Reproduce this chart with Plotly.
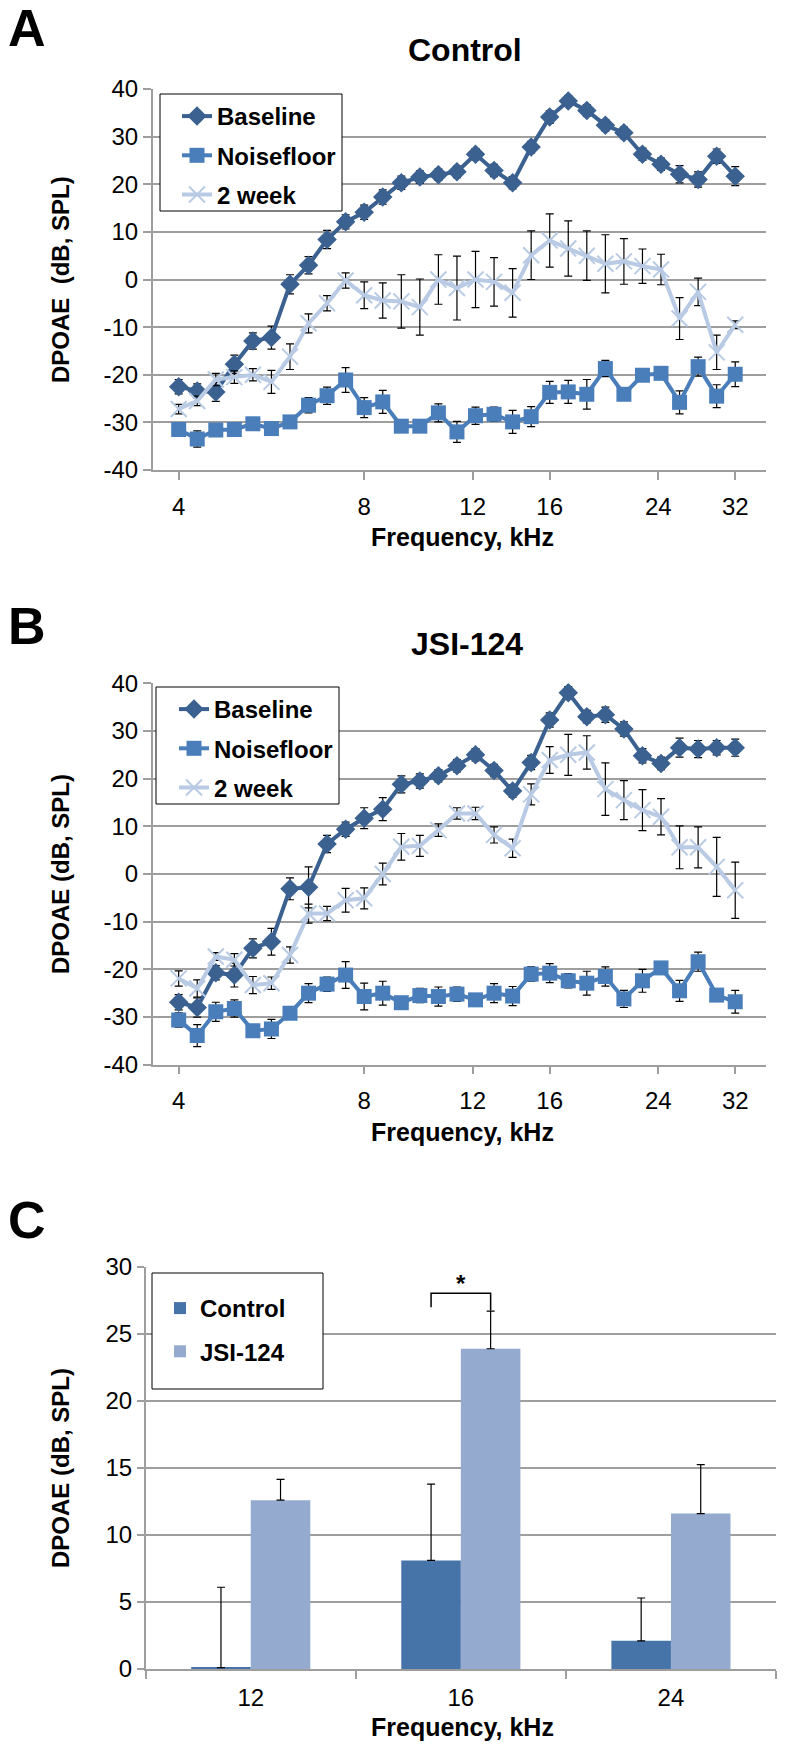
import math
import plotly.graph_objects as go

W, H = 787, 1747
FONT = "Liberation Sans, Arial, sans-serif"

# ---------------- data ----------------
freq_khz = [4.000, 4.287, 4.595, 4.925, 5.278, 5.657, 6.063, 6.498, 6.964, 7.464,
            8.000, 8.574, 9.190, 9.849, 10.556, 11.314, 12.126, 12.996, 13.929, 14.929,
            16.000, 17.148, 18.379, 19.698, 21.112, 22.627, 24.251, 25.992, 27.858, 29.857, 32.000]
freq_ticks = [4, 8, 12, 16, 24, 32]
db_ticks = [-40, -30, -20, -10, 0, 10, 20, 30, 40]

# Panel A (Control)
ctl_base = [-22.5, -23.4, -23.6, -17.8, -12.9, -12.2, -1.0, 3.0, 8.4, 12.1,
            14.1, 17.3, 20.3, 21.5, 22.0, 22.6, 26.3, 22.9, 20.3, 27.8,
            34.1, 37.5, 35.5, 32.4, 30.8, 26.3, 24.2, 22.1, 21.0, 25.9, 21.7]
ctl_base_err = [1.5, 1.5, 2.0, 1.9, 1.7, 2.4, 2.0, 1.8, 1.9, 1.5,
                1.5, 1.5, 1.4, 1.3, 1.2, 1.2, 1.2, 1.3, 1.3, 1.2,
                1.3, 1.1, 1.2, 1.2, 1.2, 1.3, 1.3, 1.8, 1.6, 1.5, 2.0]
ctl_noise = [-31.5, -33.5, -31.6, -31.5, -30.3, -31.3, -29.9, -26.4, -24.4, -21.1,
             -26.9, -25.7, -30.8, -30.8, -28.0, -32.0, -28.6, -28.3, -29.9, -28.8,
             -23.7, -23.6, -24.1, -18.7, -24.1, -20.1, -19.7, -25.8, -18.3, -24.5, -19.9]
ctl_noise_err = [1.0, 1.7, 1.0, 1.0, 1.0, 1.0, 1.0, 1.6, 1.8, 2.6,
                 2.1, 2.4, 1.0, 1.0, 1.9, 2.2, 1.8, 1.5, 2.4, 2.1,
                 2.3, 2.4, 3.1, 1.7, 1.0, 1.2, 1.2, 2.4, 2.0, 2.4, 2.6]
ctl_2wk = [-27.2, -25.5, -21.0, -20.5, -20.0, -21.5, -16.2, -9.2, -5.0, -0.2,
           -3.3, -4.4, -4.6, -5.8, 0.0, -1.8, 0.0, -0.5, -2.8, 5.1,
           8.2, 6.5, 5.0, 3.3, 3.8, 2.8, 2.1, -8.2, -2.6, -15.3, -9.5]
ctl_2wk_err = [1.0, 1.0, 1.3, 1.3, 1.3, 2.4, 2.7, 2.0, 1.6, 1.6,
               2.8, 3.7, 5.6, 5.9, 5.2, 6.7, 5.9, 5.1, 5.1, 5.1,
               5.6, 5.8, 5.2, 6.1, 4.8, 3.6, 3.2, 4.4, 2.9, 3.6, 0.8]

# Panel B (JSI-124)
jsi_base = [-26.9, -28.0, -20.7, -21.2, -15.6, -14.2, -3.1, -2.8, 6.3, 9.4,
            11.7, 13.6, 18.8, 19.5, 20.6, 22.7, 25.0, 21.7, 17.4, 23.4,
            32.3, 38.0, 33.0, 33.4, 30.4, 24.8, 23.2, 26.5, 26.2, 26.5, 26.5]
jsi_base_err = [1.6, 2.0, 1.5, 2.5, 2.0, 2.8, 2.3, 4.3, 1.8, 1.5,
                2.2, 2.4, 1.8, 1.5, 1.3, 1.3, 1.3, 1.3, 1.3, 1.5,
                1.5, 1.3, 1.3, 1.6, 1.5, 1.5, 1.3, 2.0, 1.8, 1.5, 1.8]
jsi_noise = [-30.6, -33.9, -28.9, -28.2, -32.9, -32.5, -29.2, -25.0, -23.1, -21.2,
             -25.7, -25.0, -27.0, -25.5, -25.7, -25.2, -26.4, -25.0, -25.6, -21.0,
             -20.8, -22.4, -22.9, -21.5, -26.2, -22.4, -19.7, -24.5, -18.4, -25.4, -26.8]
jsi_noise_err = [1.5, 2.3, 2.0, 1.8, 1.0, 2.0, 1.2, 2.0, 1.5, 2.8,
                 2.8, 2.5, 1.0, 1.5, 2.0, 1.5, 1.0, 2.0, 2.0, 1.5,
                 2.0, 1.5, 2.5, 2.0, 1.8, 2.4, 1.0, 2.2, 2.0, 1.2, 2.4]
jsi_2wk = [-21.9, -24.0, -17.3, -18.0, -23.3, -22.9, -17.0, -8.3, -8.3, -5.5,
           -5.1, 0.0, 5.7, 5.9, 9.2, 12.7, 12.7, 8.2, 5.4, 16.7,
           23.9, 25.0, 25.5, 17.8, 15.5, 13.4, 12.0, 5.6, 5.6, 1.5, -3.4]
jsi_2wk_err = [1.6, 1.8, 0.8, 1.3, 1.8, 1.3, 1.7, 2.0, 1.5, 2.5,
               2.2, 2.3, 2.8, 2.2, 1.3, 1.2, 1.3, 1.7, 1.9, 2.2,
               2.8, 4.3, 3.5, 5.5, 4.1, 4.3, 3.8, 4.5, 4.3, 6.2, 5.9]

# Panel C (bar chart, 2-week DPOAE)
bar_freqs = ["12", "16", "24"]
bar_control = [0.1, 8.1, 2.1]
bar_control_err = [6.0, 5.7, 3.2]
bar_jsi = [12.6, 23.9, 11.6]
bar_jsi_err = [1.55, 2.8, 3.65]
bar_ticks = [0, 5, 10, 15, 20, 25, 30]
sig_category = "16"

# ---------------- style ----------------
C_BASE = "#3A6190"
C_NOISE = "#4A7EBB"
C_2WK = "#B9CBE4"
C_BAR_CTL = "#4673A8"
C_BAR_JSI = "#95AACF"
GRID = "#9E9E9E"
BARGAP = 0.433


def px(x):
    return x / W


def py(y):
    return 1 - y / H


fig = go.Figure()


def add_line_panel(xa, ya, leg, base, base_err, noise, noise_err, wk, wk_err):
    eb = dict(type="data", color="black", thickness=1.2, width=4)
    fig.add_trace(go.Scatter(
        x=freq_khz, y=base, name="Baseline", mode="lines+markers",
        line=dict(color=C_BASE, width=4),
        marker=dict(symbol="diamond", size=15, color=C_BASE),
        error_y=dict(array=base_err, **eb),
        xaxis=xa, yaxis=ya, legend=leg, legendgroup=leg + "a"))
    fig.add_trace(go.Scatter(
        x=freq_khz, y=noise, name="Noisefloor", mode="lines+markers",
        line=dict(color=C_NOISE, width=4),
        marker=dict(symbol="square", size=15, color=C_NOISE),
        error_y=dict(array=noise_err, **eb),
        xaxis=xa, yaxis=ya, legend=leg, legendgroup=leg + "b"))
    fig.add_trace(go.Scatter(
        x=freq_khz, y=wk, name="2 week", mode="lines+markers",
        line=dict(color=C_2WK, width=4),
        marker=dict(symbol="x-thin-open", size=16, color=C_2WK,
                    line=dict(color=C_2WK, width=2)),
        error_y=dict(array=wk_err, **eb),
        xaxis=xa, yaxis=ya, legend=leg, legendgroup=leg + "c"))


add_line_panel("x", "y", "legend", ctl_base, ctl_base_err, ctl_noise, ctl_noise_err, ctl_2wk, ctl_2wk_err)
add_line_panel("x2", "y2", "legend2", jsi_base, jsi_base_err, jsi_noise, jsi_noise_err, jsi_2wk, jsi_2wk_err)

fig.add_trace(go.Bar(
    x=bar_freqs, y=bar_control, name="Control", marker=dict(color=C_BAR_CTL, line=dict(width=0)),
    error_y=dict(type="data", symmetric=False, array=bar_control_err,
                 arrayminus=[0] * len(bar_control), color="black", thickness=1.2, width=4),
    xaxis="x3", yaxis="y3", legend="legend3", legendgroup="c1"))
fig.add_trace(go.Bar(
    x=bar_freqs, y=bar_jsi, name="JSI-124", marker=dict(color=C_BAR_JSI, line=dict(width=0)),
    error_y=dict(type="data", symmetric=False, array=bar_jsi_err,
                 arrayminus=[0] * len(bar_jsi), color="black", thickness=1.2, width=4),
    xaxis="x3", yaxis="y3", legend="legend3", legendgroup="c2"))

tickfont = dict(family=FONT, size=24, color="black")
xrange_log = [math.log10(3.63), math.log10(35.9)]

line_x = dict(type="log", range=xrange_log, tickvals=freq_ticks,
              ticktext=[str(t) for t in freq_ticks], ticks="outside", ticklen=8,
              tickwidth=1.5, tickcolor=GRID, showline=True, linecolor=GRID, linewidth=1.5,
              showgrid=False, zeroline=False, tickfont=tickfont, ticklabelstandoff=6,
              automargin=False)
line_y = dict(range=[-40, 40], tickvals=db_ticks, ticktext=[str(t) for t in db_ticks],
              ticks="outside", ticklen=8, tickwidth=1.5,
              tickcolor=GRID, showline=True, linecolor=GRID, linewidth=1.5,
              showgrid=True, gridcolor=GRID, gridwidth=1.5, zeroline=False, tickfont=tickfont,
              automargin=False)

A_top, A_bot = 89, 470
B_top, B_bot = 683.3, 1064.7
C_top, C_bot = 1267, 1669
X_l, X_r = 152.7, 766

fig.update_layout(
    width=W, height=H, margin=dict(l=0, r=0, t=0, b=0, autoexpand=False),
    paper_bgcolor="white", plot_bgcolor="white",
    font=dict(family=FONT, color="black"),
    barmode="group", bargap=BARGAP, bargroupgap=0,
    xaxis=dict(domain=[px(X_l), px(X_r)], anchor="y", **line_x),
    yaxis=dict(domain=[py(A_bot), py(A_top)], anchor="x", **line_y),
    xaxis2=dict(domain=[px(X_l), px(X_r)], anchor="y2", **line_x),
    yaxis2=dict(domain=[py(B_bot), py(B_top)], anchor="x2", **line_y),
    xaxis3=dict(domain=[px(145.7), px(776)], anchor="y3", type="category",
                categoryorder="array", categoryarray=bar_freqs,
                ticks="outside", tickson="boundaries", ticklen=8, tickwidth=1.5,
                tickcolor=GRID, showline=True, linecolor=GRID, linewidth=1.5,
                showgrid=False, tickfont=tickfont, ticklabelstandoff=6, automargin=False),
    yaxis3=dict(domain=[py(C_bot), py(C_top)], anchor="x3", range=[0, 30],
                tickvals=bar_ticks, ticktext=[str(t) for t in bar_ticks],
                ticks="outside", ticklen=7, tickwidth=1.5, tickcolor=GRID,
                showline=True, linecolor=GRID, linewidth=1.5, showgrid=True,
                gridcolor=GRID, gridwidth=1.5, zeroline=False, tickfont=tickfont,
                automargin=False),
    showlegend=True,
)

leg_common = dict(xanchor="left", yanchor="top", bgcolor="rgba(0,0,0,0)", borderwidth=0,
                  font=dict(family=FONT, size=24, color="black", weight="bold"),
                  traceorder="grouped")
fig.update_layout(
    legend=dict(x=px(177), y=py(94), tracegroupgap=5, **leg_common),
    legend2=dict(x=px(174), y=py(687), tracegroupgap=5, **leg_common),
    legend3=dict(x=px(160), y=py(1286), tracegroupgap=9, **leg_common),
)

# legend frames (white fill hides the gridlines, thin black border)
for (x0, y0, x1, y1) in [(160, 94, 342, 211), (156, 687, 339, 804), (152, 1273, 323, 1389)]:
    fig.add_shape(type="rect", xref="paper", yref="paper",
                  x0=px(x0), x1=px(x1), y0=py(y1), y1=py(y0),
                  line=dict(color="black", width=1), fillcolor="white", layer="above")

# significance bracket over 16 kHz
idx = bar_freqs.index(sig_category)
half = (1 - BARGAP) / 4.0
jsi_top = bar_jsi[idx] + bar_jsi_err[idx]
bracket_y = jsi_top + 1.35
fig.add_shape(type="path", xref="x3", yref="y3",
              path=f"M {idx - half},{bracket_y - 1.05} L {idx - half},{bracket_y} "
                   f"L {idx + half},{bracket_y} L {idx + half},{jsi_top + 0.05}",
              line=dict(color="black", width=1.5))
fig.add_annotation(x=idx, y=bracket_y, xref="x3", yref="y3", text="<b>*</b>",
                   showarrow=False, yanchor="bottom", yshift=-6,
                   font=dict(family=FONT, size=24, color="black"))


def ann(x, y, text, size, angle=0):
    fig.add_annotation(x=px(x), y=py(y), xref="paper", yref="paper", text=text,
                       showarrow=False, xanchor="center", yanchor="middle", textangle=angle,
                       font=dict(family=FONT, size=size, color="black"))


# panel letters
ann(27, 28, "<b>A</b>", 52)
ann(27, 626, "<b>B</b>", 52)
ann(27, 1220, "<b>C</b>", 52)
# titles
ann(465, 50, "<b>Control</b>", 32)
ann(467, 644, "<b>JSI-124</b>", 32)
# axis titles
ann(60, 280, "<b>DPOAE\u00a0 (dB, SPL)</b>", 24, -90)
ann(60, 874, "<b>DPOAE (dB, SPL)</b>", 24, -90)
ann(60, 1468, "<b>DPOAE (dB, SPL)</b>", 24, -90)
ann(462, 537, "<b>Frequency, kHz</b>", 25)
ann(462, 1132, "<b>Frequency, kHz</b>", 25)
ann(462, 1727, "<b>Frequency, kHz</b>", 25)

fig.write_html("out.html",
               config={"displayModeBar": False, "staticPlot": False},
               post_script="document.body.style.margin='0px';document.body.style.overflow='hidden';")
